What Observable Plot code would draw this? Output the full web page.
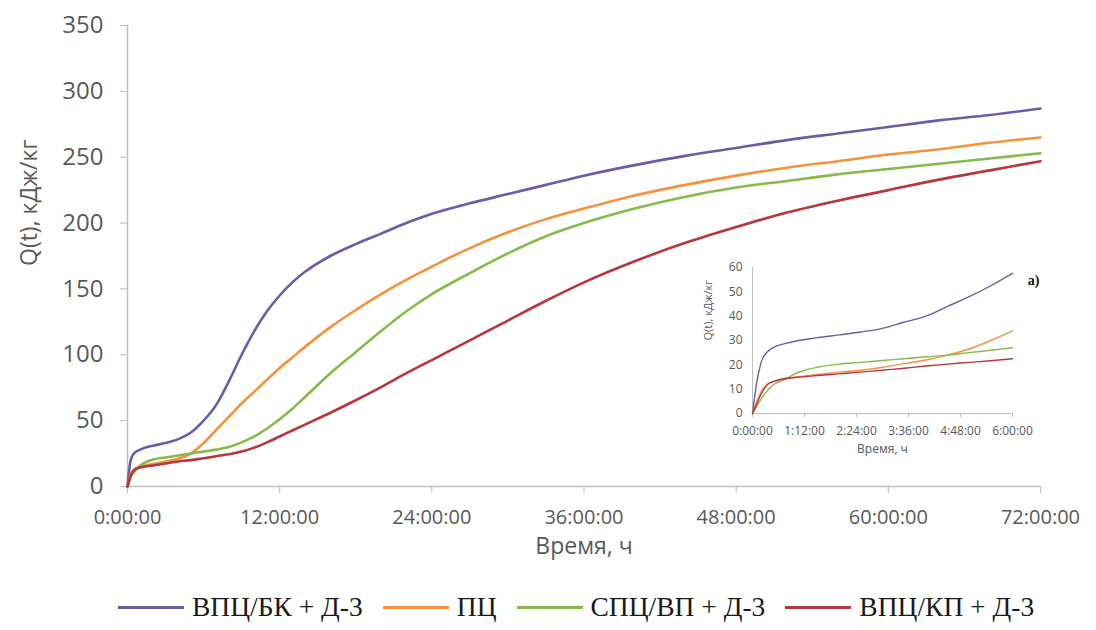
<!DOCTYPE html>
<html>
<head>
<meta charset="utf-8">
<script src="https://cdn.jsdelivr.net/npm/d3@7"></script>
<script src="https://cdn.jsdelivr.net/npm/@observablehq/plot@0.6"></script>
<style>
  html, body { margin: 0; padding: 0; background: #fff; overflow: hidden; }
  #wrap { position: relative; width: 1096px; height: 630px; }
  #inset { position: absolute; left: 690px; top: 255px; }
  #legend { position: absolute; left: 0; top: 584px; width: 1096px; height: 46px;
    box-sizing: border-box; padding-left: 118px;
    display: flex; justify-content: flex-start; align-items: center;
    font-family: "Liberation Serif", "DejaVu Serif", serif; font-size: 27.5px; color: #1a1a1a; }
  .item { display: flex; align-items: center; margin-right: 20px; }
  .sw { display: inline-block; width: 66px; height: 3px; margin-right: 8px; }
</style>
</head>
<body>
<div id="wrap">
  <div id="main"></div>
  <div id="inset"></div>
  <div id="legend"></div>
</div>
<script>
// ---- Data ----
const seriesNames = ["ВПЦ/БК + Д-3", "ПЦ", "СПЦ/ВП + Д-3", "ВПЦ/КП + Д-3"];
const seriesColors = ["#6e5ba6", "#f5923e", "#88b94b", "#b7373f"];

// main chart: time in hours, Q(t) in кДж/кг
const hours =    [0, 0.25, 0.5, 1, 2, 3, 4, 5, 6, 7, 8, 9, 10, 11, 12, 13, 14, 16, 18, 20, 22, 24, 27, 30, 33, 36, 40, 44, 48, 52, 56, 60, 64, 68, 72];
const qVPC_BK =  [0, 20, 25, 28, 31, 33, 36, 41, 50, 62, 80, 100, 118, 133, 145, 155, 163, 175, 184, 192, 200, 207, 215, 222, 229, 236, 244, 251, 257, 263, 268, 273, 278, 282, 287];
const qPC =      [0, 9, 13, 15, 17, 19, 21, 25, 33, 43, 53, 63, 72, 81, 90, 98, 106, 121, 134, 146, 157, 167, 181, 193, 203, 211, 221, 229, 236, 242, 247, 252, 256, 261, 265];
const qSPC_VP =  [0, 7, 11, 16, 20.5, 22, 23.5, 25, 26.5, 28, 30, 33.5, 38, 44, 51, 59, 68, 86, 102, 118, 133, 146, 162, 177, 190, 200, 211, 220, 227, 232, 237, 241, 245, 249, 253];
const qVPC_KP =  [0, 8, 12, 14.5, 16, 17.5, 19, 20, 21.5, 23, 24.5, 26.5, 29.5, 33.5, 38, 42.5, 47, 56, 65.5, 75.5, 86, 96, 111, 126, 141, 155, 171, 185, 197, 208, 217, 225, 233, 240, 247];
const xTicks = [0, 12, 24, 36, 48, 60, 72];
const yTicks = [0, 50, 100, 150, 200, 250, 300, 350];

// inset a): first 6 hours
const insetHours =   [0, 0.1, 0.2, 0.35, 0.5, 0.75, 1, 1.25, 1.5, 2, 2.5, 3, 3.5, 4, 4.5, 5, 5.5, 6];
const insetVPC_BK =  [0, 13, 21, 25.5, 27.3, 28.7, 29.8, 30.5, 31.2, 32.3, 33.5, 35, 37.5, 40, 44, 48, 52.5, 57.6];
const insetPC =      [0, 5, 9, 12, 13.3, 14.5, 15, 15.5, 16, 17, 17.8, 19, 20.5, 22, 24, 26.5, 30, 34];
const insetSPC_VP =  [0, 3, 6, 9.5, 12, 14, 16.5, 18, 19, 20.3, 21, 21.8, 22.5, 23.3, 24, 25, 26, 27];
const insetVPC_KP =  [0, 4, 8, 12, 13.2, 14.3, 14.8, 15.2, 15.6, 16.3, 17, 17.8, 18.6, 19.5, 20.3, 21, 21.7, 22.5];
const insetXTicks = [0, 1.2, 2.4, 3.6, 4.8, 6];
const insetYTicks = [0, 10, 20, 30, 40, 50, 60];

// ---- Build tables ----
function longTable(ts, arrays) {
  const rows = [];
  arrays.forEach((arr, i) => arr.forEach((q, j) => rows.push({t: ts[j], q, s: seriesNames[i]})));
  return rows;
}
const mainData = longTable(hours, [qVPC_BK, qPC, qSPC_VP, qVPC_KP]);
const insetData = longTable(insetHours, [insetVPC_BK, insetPC, insetSPC_VP, insetVPC_KP]);

const fmtTime = h => {
  const m = Math.round(h * 60);
  return `${Math.floor(m / 60)}:${String(m % 60).padStart(2, "0")}:00`;
};

const axisGray = "#bfbfbf";
const textGray = "#595959";

const main = Plot.plot({
  width: 1096, height: 584,
  marginLeft: 127, marginRight: 56, marginTop: 25, marginBottom: 98,
  style: {fontFamily: "'Open Sans', sans-serif", background: "transparent", color: textGray},
  x: {domain: [0, 72]},
  y: {domain: [0, 350]},
  color: {domain: seriesNames, range: seriesColors},
  marks: [
    Plot.ruleX([0], {stroke: axisGray, strokeWidth: 1.5}),
    Plot.ruleY([0], {stroke: axisGray, strokeWidth: 1.5}),
    Plot.axisX({ticks: xTicks, tickFormat: fmtTime, tickSize: 7, tickPadding: 16, fontSize: 20, stroke: axisGray, fill: textGray, label: null}),
    Plot.axisY({ticks: yTicks, tickSize: 7, tickPadding: 17, fontSize: 24, stroke: axisGray, fill: textGray, label: null}),
    Plot.text(["Время, ч"], {frameAnchor: "bottom", dy: 67, fontSize: 23, fill: textGray}),
    Plot.text(["Q(t), кДж/кг"], {frameAnchor: "left", dx: -98, dy: 10, rotate: -90, fontSize: 23, fill: textGray}),
    Plot.line(mainData, {x: "t", y: "q", z: "s", stroke: "s", strokeWidth: 2.6, curve: "monotone-x"})
  ]
});
document.getElementById("main").appendChild(main);

const inset = Plot.plot({
  width: 360, height: 215,
  marginLeft: 62, marginRight: 38, marginTop: 12, marginBottom: 57,
  style: {fontFamily: "'Open Sans', sans-serif", background: "transparent", color: textGray},
  x: {domain: [0, 6]},
  y: {domain: [0, 60]},
  color: {domain: seriesNames, range: seriesColors},
  marks: [
    Plot.ruleX([0], {stroke: axisGray}),
    Plot.ruleY([0], {stroke: axisGray}),
    Plot.axisX({ticks: insetXTicks, tickFormat: fmtTime, tickSize: 4, tickPadding: 9, fontSize: 12, stroke: axisGray, fill: textGray, label: null}),
    Plot.axisY({ticks: insetYTicks, tickSize: 0, tickPadding: 10, fontSize: 12, fill: textGray, label: null}),
    Plot.text(["Время, ч"], {frameAnchor: "bottom", dy: 39, fontSize: 12, fill: textGray}),
    Plot.text(["Q(t), кДж/кг"], {frameAnchor: "left", dx: -44, rotate: -90, fontSize: 11, fill: textGray}),
    Plot.line(insetData, {x: "t", y: "q", z: "s", stroke: "s", strokeWidth: 1.4, curve: "monotone-x"}),
    Plot.text(["a)"], {frameAnchor: "top-right", dx: 27, dy: 8, fontSize: 14, fontWeight: "bold", fontFamily: "'Liberation Serif', serif", fill: "#111"})
  ]
});
document.getElementById("inset").appendChild(inset);

// ---- Legend ----
const legend = document.getElementById("legend");
seriesNames.forEach((name, i) => {
  const item = document.createElement("div");
  item.className = "item";
  const sw = document.createElement("span");
  sw.className = "sw";
  sw.style.background = seriesColors[i];
  const label = document.createElement("span");
  label.textContent = name;
  item.appendChild(sw);
  item.appendChild(label);
  legend.appendChild(item);
});
</script>
</body>
</html>
